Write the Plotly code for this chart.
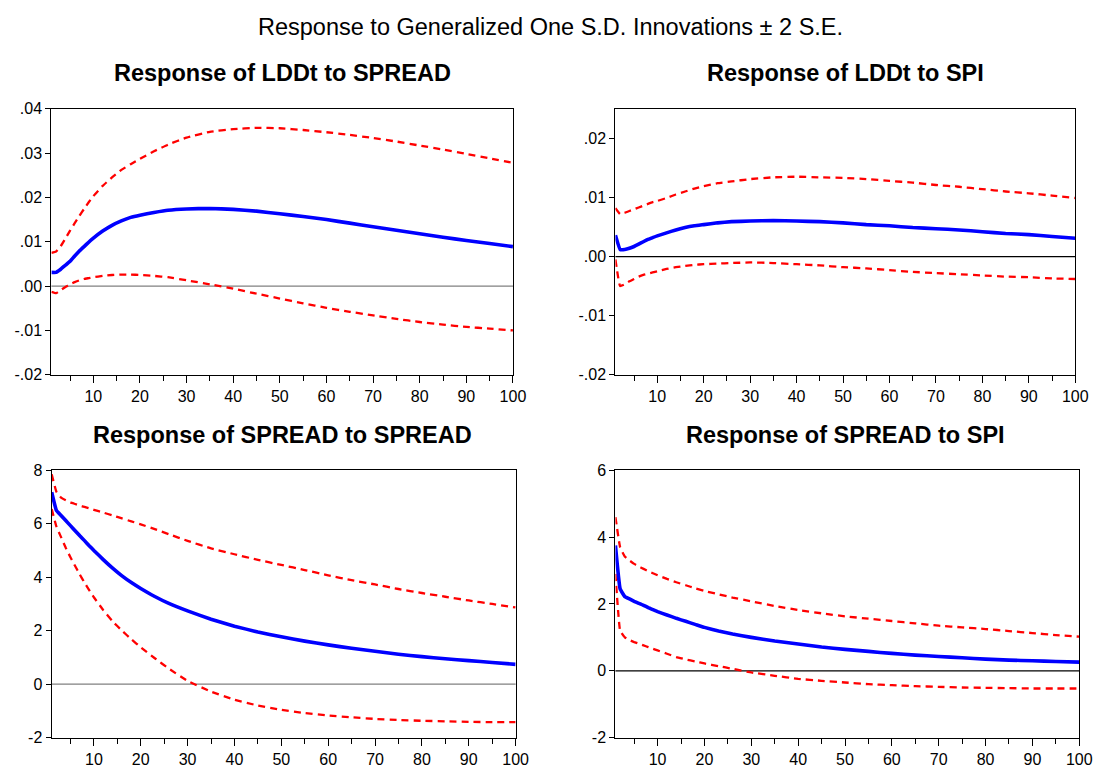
import plotly.graph_objects as go

# Forecast horizons (periods) at which the responses are tabulated
periods = [1, 2, 3, 4, 5, 6, 7, 8, 9, 10, 12, 14, 16, 18, 20, 23, 26, 30,
           35, 40, 45, 50, 55, 60, 65, 70, 75, 80, 85, 90, 95, 100]

# Response of LDDt to SPREAD
lddt_spread = [0.0031, 0.0031, 0.0038, 0.0047, 0.0056, 0.0068, 0.0079, 0.0089, 0.0099, 0.0108,
               0.0124, 0.0137, 0.0147, 0.0155, 0.0160, 0.0166, 0.0171, 0.0174,
               0.0175, 0.0173, 0.0169, 0.0163, 0.0157, 0.0150, 0.0142, 0.0134,
               0.0126, 0.0118, 0.0110, 0.0103, 0.0096, 0.0089]
lddt_spread_hi = [0.0075, 0.0078, 0.0090, 0.0107, 0.0125, 0.0142, 0.0158, 0.0174, 0.0189, 0.0203,
                  0.0226, 0.0245, 0.0262, 0.0275, 0.0287, 0.0304, 0.0319, 0.0335,
                  0.0348, 0.0354, 0.0357, 0.0356, 0.0352, 0.0347, 0.0341, 0.0334,
                  0.0326, 0.0317, 0.0308, 0.0298, 0.0288, 0.0278]
lddt_spread_lo = [-0.0013, -0.0016, -0.0009, -0.0002, 0.0004, 0.0009, 0.0013, 0.0016, 0.0018, 0.0020,
                  0.0023, 0.0025, 0.0026, 0.0026, 0.0025, 0.0023, 0.0020, 0.0013,
                  0.0004, -0.0006, -0.0017, -0.0028, -0.0039, -0.0049, -0.0058, -0.0066,
                  -0.0074, -0.0081, -0.0087, -0.0092, -0.0096, -0.0100]

# Response of LDDt to SPI
lddt_spi = [0.0036, 0.0012, 0.0012, 0.0014, 0.0017, 0.0021, 0.0025, 0.0029, 0.0032, 0.0035,
            0.0040, 0.0045, 0.0049, 0.0052, 0.0054, 0.0057, 0.0059, 0.0060,
            0.0061, 0.0060, 0.0059, 0.0057, 0.0054, 0.0052, 0.0049, 0.0047,
            0.0045, 0.0042, 0.0039, 0.0037, 0.0034, 0.0031]
lddt_spi_hi = [0.0082, 0.0072, 0.0074, 0.0077, 0.0080, 0.0083, 0.0086, 0.0089, 0.0092, 0.0094,
               0.0099, 0.0105, 0.0110, 0.0115, 0.0119, 0.0124, 0.0127, 0.0131,
               0.0134, 0.0135, 0.0134, 0.0133, 0.0131, 0.0128, 0.0125, 0.0121,
               0.0118, 0.0114, 0.0110, 0.0107, 0.0103, 0.0099]
lddt_spi_lo = [-0.0005, -0.0050, -0.0047, -0.0042, -0.0038, -0.0034, -0.0031, -0.0029, -0.0027, -0.0025,
               -0.0021, -0.0018, -0.0016, -0.0014, -0.0013, -0.0012, -0.0011, -0.0010,
               -0.0011, -0.0013, -0.0015, -0.0018, -0.0020, -0.0023, -0.0026, -0.0028,
               -0.0030, -0.0032, -0.0034, -0.0035, -0.0037, -0.0038]

# Response of SPREAD to SPREAD
spread_spread = [7.18, 6.50, 6.31, 6.12, 5.93, 5.74, 5.55, 5.37, 5.18, 5.00,
                 4.66, 4.34, 4.05, 3.80, 3.58, 3.28, 3.02, 2.74,
                 2.43, 2.17, 1.95, 1.77, 1.61, 1.47, 1.34, 1.23,
                 1.12, 1.03, 0.95, 0.88, 0.81, 0.74]
spread_spread_hi = [7.85, 7.20, 6.98, 6.88, 6.80, 6.74, 6.68, 6.63, 6.58, 6.52,
                    6.42, 6.31, 6.20, 6.09, 5.98, 5.80, 5.61, 5.36,
                    5.08, 4.86, 4.65, 4.46, 4.27, 4.07, 3.89, 3.73,
                    3.56, 3.41, 3.27, 3.13, 3.00, 2.87]
spread_spread_lo = [6.55, 5.90, 5.50, 5.10, 4.75, 4.42, 4.10, 3.80, 3.52, 3.25,
                    2.77, 2.35, 2.00, 1.68, 1.38, 0.97, 0.58, 0.12,
                    -0.28, -0.58, -0.80, -0.96, -1.08, -1.17, -1.24, -1.30,
                    -1.34, -1.37, -1.39, -1.41, -1.42, -1.42]

# Response of SPREAD to SPI
spread_spi = [3.75, 2.45, 2.22, 2.15, 2.08, 2.02, 1.96, 1.89, 1.83, 1.77,
              1.67, 1.57, 1.48, 1.39, 1.30, 1.19, 1.10, 1.00,
              0.89, 0.80, 0.71, 0.64, 0.58, 0.52, 0.47, 0.43,
              0.39, 0.35, 0.32, 0.30, 0.28, 0.26]
spread_spi_hi = [4.60, 3.70, 3.42, 3.30, 3.20, 3.12, 3.05, 2.98, 2.92, 2.86,
                 2.75, 2.65, 2.56, 2.47, 2.39, 2.29, 2.19, 2.08,
                 1.94, 1.82, 1.72, 1.63, 1.56, 1.49, 1.42, 1.35,
                 1.30, 1.25, 1.19, 1.13, 1.07, 1.02]
spread_spi_lo = [2.90, 1.20, 1.00, 0.92, 0.86, 0.81, 0.76, 0.71, 0.66, 0.61,
                 0.51, 0.41, 0.34, 0.28, 0.22, 0.14, 0.06, -0.05,
                 -0.15, -0.24, -0.30, -0.35, -0.40, -0.43, -0.46, -0.48,
                 -0.50, -0.51, -0.52, -0.53, -0.53, -0.53]

panel_titles = ["Response of LDDt to SPREAD", "Response of LDDt to SPI",
                "Response of SPREAD to SPREAD", "Response of SPREAD to SPI"]
main_title = "Response to Generalized One S.D. Innovations \u00b1 2 S.E."

x_ticks = [10, 20, 30, 40, 50, 60, 70, 80, 90, 100]
lddt_ticks = [-0.02, -0.01, 0.0, 0.01, 0.02, 0.03, 0.04]
lddt_ticktext = ["-.02", "-.01", ".00", ".01", ".02", ".03", ".04"]

W, H = 1115, 774
FONT = "Liberation Sans, Arial, sans-serif"


def px_x(a, b):
    return [a / W, b / W]


def px_y(top, bottom):
    return [1 - bottom / H, 1 - top / H]


panels = [
    dict(mean=lddt_spread, hi=lddt_spread_hi, lo=lddt_spread_lo,
         xdom=px_x(52, 519), ydom=px_y(103, 375), yrange=[-0.02, 0.04],
         ytv=lddt_ticks, ytt=lddt_ticktext, zero="#808080"),
    dict(mean=lddt_spi, hi=lddt_spi_hi, lo=lddt_spi_lo,
         xdom=px_x(622.7, 1088), ydom=px_y(103, 375), yrange=[-0.02, 0.025],
         ytv=lddt_ticks[:5], ytt=lddt_ticktext[:5], zero="#000000"),
    dict(mean=spread_spread, hi=spread_spread_hi, lo=spread_spread_lo,
         xdom=px_x(52.3, 521.7), ydom=px_y(472.7, 746), yrange=[-2, 8],
         ytv=[-2, 0, 2, 4, 6, 8], ytt=["-2", "0", "2", "4", "6", "8"], zero="#808080"),
    dict(mean=spread_spi, hi=spread_spi_hi, lo=spread_spi_lo,
         xdom=px_x(622.7, 1092), ydom=px_y(472.7, 746), yrange=[-2, 6],
         ytv=[-2, 0, 2, 4, 6], ytt=["-2", "0", "2", "4", "6"], zero="#000000"),
]

fig = go.Figure()
layout = dict(
    width=W, height=H,
    margin=dict(l=0, r=0, t=0, b=0),
    paper_bgcolor="white", plot_bgcolor="white",
    showlegend=False,
    font=dict(family=FONT, size=16, color="black"),
    shapes=[], annotations=[],
)

for i, p in enumerate(panels):
    n = "" if i == 0 else str(i + 1)
    xa, ya = "x" + n, "y" + n
    for vals, color, width, dash in [(p["hi"], "#FF0000", 2.3, "7px,5px"),
                                     (p["lo"], "#FF0000", 2.3, "7px,5px"),
                                     (p["mean"], "#0000FF", 3.6, "solid")]:
        fig.add_trace(go.Scatter(x=periods, y=vals, mode="lines", xaxis=xa, yaxis=ya,
                                 line=dict(color=color, width=width, dash=dash,
                                           shape="spline", smoothing=0.3),
                                 hoverinfo="skip"))
    layout["xaxis" + n] = dict(
        domain=p["xdom"], anchor=ya, range=[1, 100],
        tickmode="array", tickvals=x_ticks, ticks="outside", ticklen=7, tickwidth=1,
        tickcolor="black", showgrid=False, zeroline=False,
        showline=True, linecolor="black", linewidth=1.3, mirror=True,
        tickfont=dict(size=16, family=FONT, color="black"),
        minor=dict(tickvals=[5, 15, 25, 35, 45, 55, 65, 75, 85, 95], ticks="outside",
                   ticklen=5, tickwidth=1, tickcolor="black", showgrid=False),
    )
    layout["yaxis" + n] = dict(
        domain=p["ydom"], anchor=xa, range=p["yrange"],
        tickmode="array", tickvals=p["ytv"], ticktext=p["ytt"],
        ticks="outside", ticklen=5, tickwidth=1, tickcolor="black",
        showgrid=False, zeroline=False,
        showline=True, linecolor="black", linewidth=1.3, mirror=True,
        tickfont=dict(size=16, family=FONT, color="black"),
    )
    layout["shapes"].append(dict(type="line", xref=xa + " domain", yref=ya,
                                 x0=0, x1=1, y0=0, y1=0, layer="below",
                                 line=dict(color=p["zero"], width=1.3)))

title_pos = [(286, 66), (855, 66), (286, 437), (855, 437)]
for t, (cx, cy) in zip(panel_titles, title_pos):
    layout["annotations"].append(dict(
        text="<b>" + t + "</b>", xref="paper", yref="paper",
        x=cx / W, y=1 - cy / H, xanchor="center", yanchor="middle",
        showarrow=False, font=dict(size=23.5, family=FONT, color="black")))

layout["annotations"].append(dict(
    text=main_title, xref="paper", yref="paper", x=557 / W, y=1 - 19 / H,
    xanchor="center", yanchor="middle", showarrow=False,
    font=dict(size=23.5, family=FONT, color="black")))

fig.update_layout(**layout)
fig.write_html("out.html")
